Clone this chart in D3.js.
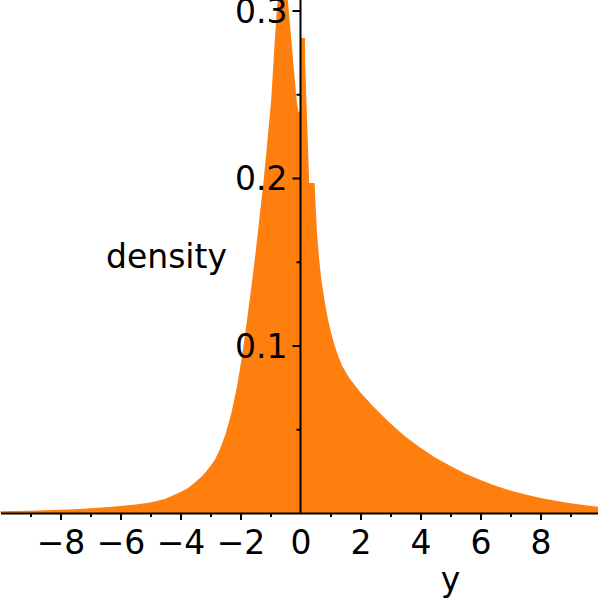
<!DOCTYPE html>
<html>
<head>
<meta charset="utf-8">
<script src="https://cdn.jsdelivr.net/npm/d3@7"></script>
<style>
  html, body { margin: 0; padding: 0; background: #fff; }
  svg { display: block; font-family: "DejaVu Sans", sans-serif; }
</style>
</head>
<body>
<svg id="chart" width="598" height="604"></svg>
<script>
// ---- data ----
const xValues = [
  -10.0, -9.5, -9.0, -8.5, -8.0, -7.5, -7.0, -6.5, -6.0, -5.5, -5.0, -4.5,
  -4.0, -3.75, -3.5, -3.25, -3.0, -2.85, -2.7, -2.5, -2.3, -2.1, -1.93, -1.8, -1.63,
  -1.5, -1.37, -1.25, -1.13, -0.98, -0.84, -0.77, -0.7, -0.55, -0.42, -0.13,
  -0.07, -0.001,
  0.0, 0.15, 0.155, 0.29, 0.47, 0.5, 0.55, 0.62, 0.69, 0.8, 0.9, 1.0, 1.13,
  1.25, 1.4, 1.63, 2.0, 2.4, 3.0, 3.5, 4.0, 4.5, 5.0, 5.5, 6.0, 6.5, 7.0, 7.5,
  8.0, 8.5, 9.0, 9.5, 10.0
];
const densityValues = [
  0.0010, 0.0012, 0.0014, 0.0016, 0.0019, 0.0023, 0.0028, 0.0034, 0.0042, 0.0051, 0.0063, 0.0085,
  0.0125, 0.0150, 0.0185, 0.0225, 0.0280, 0.0320, 0.0376, 0.0470, 0.0600, 0.0770, 0.0960, 0.1130, 0.1360,
  0.1550, 0.1760, 0.1950, 0.2170, 0.2460, 0.2870, 0.3050, 0.3090, 0.3100, 0.3060, 0.2466,
  0.2400, 0.2380,
  0.2836, 0.2836, 0.2690, 0.1970, 0.1970, 0.1850, 0.1670, 0.1520, 0.1400, 0.1270, 0.1170, 0.1090, 0.1005,
  0.0940, 0.0875, 0.0805, 0.0720, 0.0640, 0.0535, 0.0455, 0.0390, 0.0330, 0.0280, 0.0235, 0.0197, 0.0163, 0.0134, 0.0110,
  0.0090, 0.0073, 0.0058, 0.0046, 0.0036
];
const xTicks = [-8, -6, -4, -2, 0, 2, 4, 6, 8];
const xMinorTicks = [-9, -7, -5, -3, -1, 1, 3, 5, 7, 9];
const yTicks = [0.1, 0.2, 0.3];
const yMinorTicks = [0.05, 0.15, 0.25];

// ---- layout ----
const svg = d3.select("#chart");
const x = d3.scaleLinear().domain([-10, 10]).range([0.5, 600.5]);
const y = d3.scaleLinear().domain([0, 0.3]).range([513, 10.5]);
const fillColor = "#ff7f0e";
const fontSize = 33;

const points = xValues.map((v, i) => ({ x: v, d: densityValues[i] }));

const area = d3.area()
  .x(p => x(p.x))
  .y0(y(0))
  .y1(p => y(p.d))
  .curve(d3.curveLinear);

svg.append("path")
  .datum(points)
  .attr("d", area)
  .attr("fill", fillColor)
  .attr("stroke", "none");

// ---- x axis ----
const fmt = v => (v < 0 ? "\u2212" + Math.abs(v) : String(v));
const gx = svg.append("g").attr("transform", `translate(0,${y(0)})`);
gx.call(d3.axisBottom(x).tickValues(xTicks).tickSize(7).tickSizeOuter(0).tickFormat(fmt));
gx.select(".domain").attr("stroke", "#000").attr("stroke-width", 2);
gx.selectAll(".tick line").attr("stroke", "#000").attr("stroke-width", 2);
gx.selectAll(".tick text")
  .attr("y", 41).attr("dy", "0")
  .attr("font-size", fontSize)
  .attr("font-family", "DejaVu Sans")
  .attr("fill", "#000");
gx.selectAll(".tick").filter(d => d === 0).select("line").remove();

const gxm = svg.append("g").attr("transform", `translate(0,${y(0)})`);
gxm.call(d3.axisBottom(x).tickValues(xMinorTicks).tickSize(4).tickSizeOuter(0).tickFormat(""));
gxm.select(".domain").remove();
gxm.selectAll(".tick line").attr("stroke", "#000").attr("stroke-width", 2);

// ---- y axis ----
const gy = svg.append("g").attr("transform", `translate(${x(0)},0)`);
gy.call(d3.axisLeft(y).tickValues(yTicks).tickSize(8).tickSizeOuter(0).tickFormat(d3.format(".1f")));
gy.select(".domain").attr("stroke", "#000").attr("stroke-width", 2)
  .attr("d", `M0,${y(0) + 1}V0`);
gy.selectAll(".tick line").attr("stroke", "#000").attr("stroke-width", 2);
gy.selectAll(".tick text")
  .attr("x", -13).attr("dy", "0.36em")
  .attr("font-size", fontSize)
  .attr("font-family", "DejaVu Sans")
  .attr("fill", "#000");

const gym = svg.append("g").attr("transform", `translate(${x(0)},0)`);
gym.call(d3.axisLeft(y).tickValues(yMinorTicks).tickSize(4).tickSizeOuter(0).tickFormat(""));
gym.select(".domain").remove();
gym.selectAll(".tick line").attr("stroke", "#000").attr("stroke-width", 2);

// ---- axis titles ----
svg.append("text")
  .attr("x", 106).attr("y", 268)
  .attr("font-size", fontSize)
  .attr("fill", "#000")
  .text("density");

svg.append("text")
  .attr("x", 450.5).attr("y", 591)
  .attr("text-anchor", "middle")
  .attr("font-size", fontSize)
  .attr("fill", "#000")
  .text("y");
</script>
</body>
</html>
